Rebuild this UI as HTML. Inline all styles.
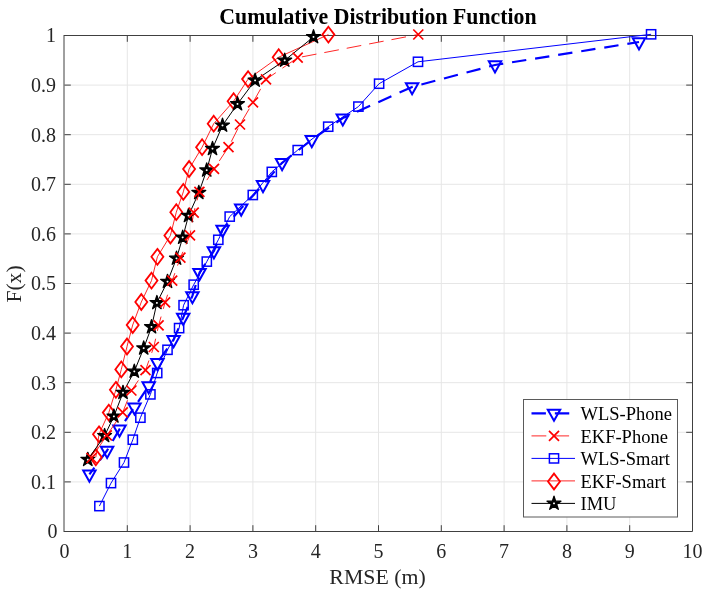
<!DOCTYPE html><html><head><meta charset="utf-8"><style>html,body{margin:0;padding:0;background:#fff;}svg{display:block;will-change:transform}text{font-family:"Liberation Serif",serif;fill:#262626}</style></head><body>
<svg width="709" height="594" viewBox="0 0 709 594">
<rect width="709" height="594" fill="#fff"/>
<path d="M127.3 35.5V531.5M190.1 35.5V531.5M252.9 35.5V531.5M315.7 35.5V531.5M378.5 35.5V531.5M441.3 35.5V531.5M504.1 35.5V531.5M566.9 35.5V531.5M629.7 35.5V531.5M64.5 481.9H692.5M64.5 432.3H692.5M64.5 382.7H692.5M64.5 333.1H692.5M64.5 283.5H692.5M64.5 233.9H692.5M64.5 184.3H692.5M64.5 134.7H692.5M64.5 85.1H692.5" stroke="#e6e6e6" stroke-width="1" fill="none"/>
<path d="M127.3 531.5v-6.3M127.3 35.5v6.3M190.1 531.5v-6.3M190.1 35.5v6.3M252.9 531.5v-6.3M252.9 35.5v6.3M315.7 531.5v-6.3M315.7 35.5v6.3M378.5 531.5v-6.3M378.5 35.5v6.3M441.3 531.5v-6.3M441.3 35.5v6.3M504.1 531.5v-6.3M504.1 35.5v6.3M566.9 531.5v-6.3M566.9 35.5v6.3M629.7 531.5v-6.3M629.7 35.5v6.3M64.5 481.9h6.3M692.5 481.9h-6.3M64.5 432.3h6.3M692.5 432.3h-6.3M64.5 382.7h6.3M692.5 382.7h-6.3M64.5 333.1h6.3M692.5 333.1h-6.3M64.5 283.5h6.3M692.5 283.5h-6.3M64.5 233.9h6.3M692.5 233.9h-6.3M64.5 184.3h6.3M692.5 184.3h-6.3M64.5 134.7h6.3M692.5 134.7h-6.3M64.5 85.1h6.3M692.5 85.1h-6.3" stroke="#404040" stroke-width="1" fill="none"/>
<path d="M64 35V532M64 35.5H692.5V531.5H64" fill="none" stroke="#404040" stroke-width="1"/>
<polyline fill="none" stroke="#0000ff" stroke-width="2.2" stroke-linejoin="round" stroke-dasharray="14.4 8.95" stroke-dashoffset="6.02" points="89.4,474.3 107.1,450.5 119.5,429.2 134.5,407.1 148.7,386 157.4,362.7 173.6,339.8 183.2,317.5 192.4,295.9 199.5,272.7 213.9,251 222.6,229.5 241.2,208.2 263,184.8 282.1,162.8 311.8,139.8 342.8,118.1 412.1,86.9 495,65 639,42"/><g fill="none" stroke="#0000ff" stroke-width="2" stroke-linejoin="miter" stroke-miterlimit="10"><path d="M83.2 470.6L95.6 470.6L89.4 481.7Z"/><path d="M100.9 446.8L113.3 446.8L107.1 457.9Z"/><path d="M113.3 425.5L125.7 425.5L119.5 436.6Z"/><path d="M128.3 403.4L140.7 403.4L134.5 414.5Z"/><path d="M142.5 382.3L154.9 382.3L148.7 393.4Z"/><path d="M151.2 359L163.6 359L157.4 370.1Z"/><path d="M167.4 336.1L179.8 336.1L173.6 347.2Z"/><path d="M177 313.8L189.4 313.8L183.2 324.9Z"/><path d="M186.2 292.2L198.6 292.2L192.4 303.3Z"/><path d="M193.3 269L205.7 269L199.5 280.1Z"/><path d="M207.7 247.3L220.1 247.3L213.9 258.4Z"/><path d="M216.4 225.8L228.8 225.8L222.6 236.9Z"/><path d="M235 204.5L247.4 204.5L241.2 215.6Z"/><path d="M256.8 181.1L269.2 181.1L263 192.2Z"/><path d="M275.9 159.1L288.3 159.1L282.1 170.2Z"/><path d="M305.6 136.1L318 136.1L311.8 147.2Z"/><path d="M336.6 114.4L349 114.4L342.8 125.5Z"/><path d="M405.9 83.2L418.3 83.2L412.1 94.3Z"/><path d="M488.8 61.3L501.2 61.3L495 72.4Z"/><path d="M632.8 38.3L645.2 38.3L639 49.4Z"/></g>
<polyline fill="none" stroke="#0000ff" stroke-width="1" stroke-linejoin="round" points="99.4,506.1 111,483.1 124,462.5 132.8,439.7 140.4,417.7 150.4,394.4 157.2,373 167.5,349.8 179.1,328.1 183.6,305.2 193.7,284.7 206.8,261.6 218.3,239.8 229.7,216.6 252.8,195 271.8,171.9 297.7,150.1 328.2,126.7 358.4,106.6 379.1,83.7 418,61.8 651.1,34.3"/><g fill="none" stroke="#0000ff" stroke-width="1.5" stroke-linejoin="miter" stroke-miterlimit="10"><rect x="94.8" y="501.5" width="9.2" height="9.2"/><rect x="106.4" y="478.5" width="9.2" height="9.2"/><rect x="119.4" y="457.9" width="9.2" height="9.2"/><rect x="128.2" y="435.1" width="9.2" height="9.2"/><rect x="135.8" y="413.1" width="9.2" height="9.2"/><rect x="145.8" y="389.8" width="9.2" height="9.2"/><rect x="152.6" y="368.4" width="9.2" height="9.2"/><rect x="162.9" y="345.2" width="9.2" height="9.2"/><rect x="174.5" y="323.5" width="9.2" height="9.2"/><rect x="179" y="300.6" width="9.2" height="9.2"/><rect x="189.1" y="280.1" width="9.2" height="9.2"/><rect x="202.2" y="257" width="9.2" height="9.2"/><rect x="213.7" y="235.2" width="9.2" height="9.2"/><rect x="225.1" y="212" width="9.2" height="9.2"/><rect x="248.2" y="190.4" width="9.2" height="9.2"/><rect x="267.2" y="167.3" width="9.2" height="9.2"/><rect x="293.1" y="145.5" width="9.2" height="9.2"/><rect x="323.6" y="122.1" width="9.2" height="9.2"/><rect x="353.8" y="102" width="9.2" height="9.2"/><rect x="374.5" y="79.1" width="9.2" height="9.2"/><rect x="413.4" y="57.2" width="9.2" height="9.2"/><rect x="646.5" y="29.7" width="9.2" height="9.2"/></g>
<polyline fill="none" stroke="#ff0000" stroke-width="1" stroke-linejoin="round" stroke-opacity="0.85" points="95.8,457.3 99,434.3 108.8,412.6 115.9,389.8 121.3,369.4 127,346.5 132.7,325 141.3,302 151.5,280.6 157.4,256.8 170.4,235.5 176.3,212.2 183.3,191.9 189.1,169 202.1,147.2 213.7,123.7 233.6,101.2 248.1,79.1 278.7,57.2 328.4,34.6"/><g fill="none" stroke="#ff0000" stroke-width="1.8" stroke-linejoin="miter" stroke-miterlimit="10"><path d="M95.8 449.4L101.8 457.3L95.8 465.2L89.8 457.3Z"/><path d="M99 426.4L105 434.3L99 442.2L93 434.3Z"/><path d="M108.8 404.7L114.8 412.6L108.8 420.5L102.8 412.6Z"/><path d="M115.9 381.9L121.9 389.8L115.9 397.7L109.9 389.8Z"/><path d="M121.3 361.5L127.3 369.4L121.3 377.3L115.3 369.4Z"/><path d="M127 338.6L133 346.5L127 354.4L121 346.5Z"/><path d="M132.7 317.1L138.7 325L132.7 332.9L126.7 325Z"/><path d="M141.3 294.1L147.3 302L141.3 309.9L135.3 302Z"/><path d="M151.5 272.7L157.5 280.6L151.5 288.5L145.5 280.6Z"/><path d="M157.4 248.9L163.4 256.8L157.4 264.7L151.4 256.8Z"/><path d="M170.4 227.6L176.4 235.5L170.4 243.4L164.4 235.5Z"/><path d="M176.3 204.3L182.3 212.2L176.3 220.1L170.3 212.2Z"/><path d="M183.3 184L189.3 191.9L183.3 199.8L177.3 191.9Z"/><path d="M189.1 161.1L195.1 169L189.1 176.9L183.1 169Z"/><path d="M202.1 139.3L208.1 147.2L202.1 155.1L196.1 147.2Z"/><path d="M213.7 115.8L219.7 123.7L213.7 131.6L207.7 123.7Z"/><path d="M233.6 93.3L239.6 101.2L233.6 109.1L227.6 101.2Z"/><path d="M248.1 71.2L254.1 79.1L248.1 87L242.1 79.1Z"/><path d="M278.7 49.3L284.7 57.2L278.7 65.1L272.7 57.2Z"/><path d="M328.4 26.7L334.4 34.6L328.4 42.5L322.4 34.6Z"/></g>
<polyline fill="none" stroke="#000000" stroke-width="1" stroke-linejoin="round" points="87.8,459.6 104.6,435.8 113.9,416.3 123,392.6 134.3,371.4 143.7,348.2 151.5,327 156.9,302.8 167.5,281.6 176.5,258.4 182.7,237.5 188.5,215.7 198.8,192.7 206.7,170.2 212.5,148.7 222.5,125.4 237.5,104 255.1,80.4 284.7,60.4 313.5,36.9"/><g fill="#000000" stroke="#000000" stroke-width="1.3" stroke-linejoin="round" stroke-miterlimit="10"><path d="M87.8 452.3L89.44 457.34L94.74 457.34L90.45 460.46L92.09 465.51L87.8 462.39L83.51 465.51L85.15 460.46L80.86 457.34L86.16 457.34Z"/><path fill="#fff" stroke="none" d="M87.8 460.7L86.75 459.94L87.15 458.71L88.45 458.71L88.85 459.94Z"/><path d="M104.6 428.5L106.24 433.54L111.54 433.54L107.25 436.66L108.89 441.71L104.6 438.59L100.31 441.71L101.95 436.66L97.66 433.54L102.96 433.54Z"/><path fill="#fff" stroke="none" d="M104.6 436.9L103.55 436.14L103.95 434.91L105.25 434.91L105.65 436.14Z"/><path d="M113.9 409L115.54 414.04L120.84 414.04L116.55 417.16L118.19 422.21L113.9 419.09L109.61 422.21L111.25 417.16L106.96 414.04L112.26 414.04Z"/><path fill="#fff" stroke="none" d="M113.9 417.4L112.85 416.64L113.25 415.41L114.55 415.41L114.95 416.64Z"/><path d="M123 385.3L124.64 390.34L129.94 390.34L125.65 393.46L127.29 398.51L123 395.39L118.71 398.51L120.35 393.46L116.06 390.34L121.36 390.34Z"/><path fill="#fff" stroke="none" d="M123 393.7L121.95 392.94L122.35 391.71L123.65 391.71L124.05 392.94Z"/><path d="M134.3 364.1L135.94 369.14L141.24 369.14L136.95 372.26L138.59 377.31L134.3 374.19L130.01 377.31L131.65 372.26L127.36 369.14L132.66 369.14Z"/><path fill="#fff" stroke="none" d="M134.3 372.5L133.25 371.74L133.65 370.51L134.95 370.51L135.35 371.74Z"/><path d="M143.7 340.9L145.34 345.94L150.64 345.94L146.35 349.06L147.99 354.11L143.7 350.99L139.41 354.11L141.05 349.06L136.76 345.94L142.06 345.94Z"/><path fill="#fff" stroke="none" d="M143.7 349.3L142.65 348.54L143.05 347.31L144.35 347.31L144.75 348.54Z"/><path d="M151.5 319.7L153.14 324.74L158.44 324.74L154.15 327.86L155.79 332.91L151.5 329.79L147.21 332.91L148.85 327.86L144.56 324.74L149.86 324.74Z"/><path fill="#fff" stroke="none" d="M151.5 328.1L150.45 327.34L150.85 326.11L152.15 326.11L152.55 327.34Z"/><path d="M156.9 295.5L158.54 300.54L163.84 300.54L159.55 303.66L161.19 308.71L156.9 305.59L152.61 308.71L154.25 303.66L149.96 300.54L155.26 300.54Z"/><path fill="#fff" stroke="none" d="M156.9 303.9L155.85 303.14L156.25 301.91L157.55 301.91L157.95 303.14Z"/><path d="M167.5 274.3L169.14 279.34L174.44 279.34L170.15 282.46L171.79 287.51L167.5 284.39L163.21 287.51L164.85 282.46L160.56 279.34L165.86 279.34Z"/><path fill="#fff" stroke="none" d="M167.5 282.7L166.45 281.94L166.85 280.71L168.15 280.71L168.55 281.94Z"/><path d="M176.5 251.1L178.14 256.14L183.44 256.14L179.15 259.26L180.79 264.31L176.5 261.19L172.21 264.31L173.85 259.26L169.56 256.14L174.86 256.14Z"/><path fill="#fff" stroke="none" d="M176.5 259.5L175.45 258.74L175.85 257.51L177.15 257.51L177.55 258.74Z"/><path d="M182.7 230.2L184.34 235.24L189.64 235.24L185.35 238.36L186.99 243.41L182.7 240.29L178.41 243.41L180.05 238.36L175.76 235.24L181.06 235.24Z"/><path fill="#fff" stroke="none" d="M182.7 238.6L181.65 237.84L182.05 236.61L183.35 236.61L183.75 237.84Z"/><path d="M188.5 208.4L190.14 213.44L195.44 213.44L191.15 216.56L192.79 221.61L188.5 218.49L184.21 221.61L185.85 216.56L181.56 213.44L186.86 213.44Z"/><path fill="#fff" stroke="none" d="M188.5 216.8L187.45 216.04L187.85 214.81L189.15 214.81L189.55 216.04Z"/><path d="M198.8 185.4L200.44 190.44L205.74 190.44L201.45 193.56L203.09 198.61L198.8 195.49L194.51 198.61L196.15 193.56L191.86 190.44L197.16 190.44Z"/><path fill="#fff" stroke="none" d="M198.8 193.8L197.75 193.04L198.15 191.81L199.45 191.81L199.85 193.04Z"/><path d="M206.7 162.9L208.34 167.94L213.64 167.94L209.35 171.06L210.99 176.11L206.7 172.99L202.41 176.11L204.05 171.06L199.76 167.94L205.06 167.94Z"/><path fill="#fff" stroke="none" d="M206.7 171.3L205.65 170.54L206.05 169.31L207.35 169.31L207.75 170.54Z"/><path d="M212.5 141.4L214.14 146.44L219.44 146.44L215.15 149.56L216.79 154.61L212.5 151.49L208.21 154.61L209.85 149.56L205.56 146.44L210.86 146.44Z"/><path fill="#fff" stroke="none" d="M212.5 149.8L211.45 149.04L211.85 147.81L213.15 147.81L213.55 149.04Z"/><path d="M222.5 118.1L224.14 123.14L229.44 123.14L225.15 126.26L226.79 131.31L222.5 128.19L218.21 131.31L219.85 126.26L215.56 123.14L220.86 123.14Z"/><path fill="#fff" stroke="none" d="M222.5 126.5L221.45 125.74L221.85 124.51L223.15 124.51L223.55 125.74Z"/><path d="M237.5 96.7L239.14 101.74L244.44 101.74L240.15 104.86L241.79 109.91L237.5 106.79L233.21 109.91L234.85 104.86L230.56 101.74L235.86 101.74Z"/><path fill="#fff" stroke="none" d="M237.5 105.1L236.45 104.34L236.85 103.11L238.15 103.11L238.55 104.34Z"/><path d="M255.1 73.1L256.74 78.14L262.04 78.14L257.75 81.26L259.39 86.31L255.1 83.19L250.81 86.31L252.45 81.26L248.16 78.14L253.46 78.14Z"/><path fill="#fff" stroke="none" d="M255.1 81.5L254.05 80.74L254.45 79.51L255.75 79.51L256.15 80.74Z"/><path d="M284.7 53.1L286.34 58.14L291.64 58.14L287.35 61.26L288.99 66.31L284.7 63.19L280.41 66.31L282.05 61.26L277.76 58.14L283.06 58.14Z"/><path fill="#fff" stroke="none" d="M284.7 61.5L283.65 60.74L284.05 59.51L285.35 59.51L285.75 60.74Z"/><path d="M313.5 29.6L315.14 34.64L320.44 34.64L316.15 37.76L317.79 42.81L313.5 39.69L309.21 42.81L310.85 37.76L306.56 34.64L311.86 34.64Z"/><path fill="#fff" stroke="none" d="M313.5 38L312.45 37.24L312.85 36.01L314.15 36.01L314.55 37.24Z"/></g>
<polyline fill="none" stroke="#ff0000" stroke-width="1" stroke-linejoin="round" stroke-dasharray="14.8 8.0" stroke-dashoffset="14.93" stroke-opacity="0.85" points="91.5,458 106.8,435.4 122.7,412.4 131.4,390.5 145.5,370.2 153.8,347 158.6,325.4 165.1,302.4 172.2,280.6 180.4,257.7 190,235.4 193.7,212.6 199.4,191.8 214,168.9 228.5,147.1 240,124.5 253,102.4 266,79.4 297.7,57.7 418.3,34.5"/><g fill="none" stroke="#ff0000" stroke-width="1.7" stroke-linejoin="miter" stroke-miterlimit="10"><path d="M86.5 453L96.5 463M86.5 463L96.5 453"/><path d="M101.8 430.4L111.8 440.4M101.8 440.4L111.8 430.4"/><path d="M117.7 407.4L127.7 417.4M117.7 417.4L127.7 407.4"/><path d="M126.4 385.5L136.4 395.5M126.4 395.5L136.4 385.5"/><path d="M140.5 365.2L150.5 375.2M140.5 375.2L150.5 365.2"/><path d="M148.8 342L158.8 352M148.8 352L158.8 342"/><path d="M153.6 320.4L163.6 330.4M153.6 330.4L163.6 320.4"/><path d="M160.1 297.4L170.1 307.4M160.1 307.4L170.1 297.4"/><path d="M167.2 275.6L177.2 285.6M167.2 285.6L177.2 275.6"/><path d="M175.4 252.7L185.4 262.7M175.4 262.7L185.4 252.7"/><path d="M185 230.4L195 240.4M185 240.4L195 230.4"/><path d="M188.7 207.6L198.7 217.6M188.7 217.6L198.7 207.6"/><path d="M194.4 186.8L204.4 196.8M194.4 196.8L204.4 186.8"/><path d="M209 163.9L219 173.9M209 173.9L219 163.9"/><path d="M223.5 142.1L233.5 152.1M223.5 152.1L233.5 142.1"/><path d="M235 119.5L245 129.5M235 129.5L245 119.5"/><path d="M248 97.4L258 107.4M248 107.4L258 97.4"/><path d="M261 74.4L271 84.4M261 84.4L271 74.4"/><path d="M292.7 52.7L302.7 62.7M292.7 62.7L302.7 52.7"/><path d="M413.3 29.5L423.3 39.5M413.3 39.5L423.3 29.5"/></g>
<text transform="translate(64.5 557.5) scale(1 1.02)" font-size="20" text-anchor="middle">0</text>
<text transform="translate(127.3 557.5) scale(1 1.02)" font-size="20" text-anchor="middle">1</text>
<text transform="translate(190.1 557.5) scale(1 1.02)" font-size="20" text-anchor="middle">2</text>
<text transform="translate(252.9 557.5) scale(1 1.02)" font-size="20" text-anchor="middle">3</text>
<text transform="translate(315.7 557.5) scale(1 1.02)" font-size="20" text-anchor="middle">4</text>
<text transform="translate(378.5 557.5) scale(1 1.02)" font-size="20" text-anchor="middle">5</text>
<text transform="translate(441.3 557.5) scale(1 1.02)" font-size="20" text-anchor="middle">6</text>
<text transform="translate(504.1 557.5) scale(1 1.02)" font-size="20" text-anchor="middle">7</text>
<text transform="translate(566.9 557.5) scale(1 1.02)" font-size="20" text-anchor="middle">8</text>
<text transform="translate(629.7 557.5) scale(1 1.02)" font-size="20" text-anchor="middle">9</text>
<text transform="translate(692.5 557.5) scale(1 1.02)" font-size="20" text-anchor="middle">10</text>
<text transform="translate(57.5 538.3) scale(1 1.02)" font-size="20" text-anchor="end">0</text>
<text transform="translate(56 488.7) scale(1 1.02)" font-size="20" text-anchor="end">0.1</text>
<text transform="translate(56 439.1) scale(1 1.02)" font-size="20" text-anchor="end">0.2</text>
<text transform="translate(56 389.5) scale(1 1.02)" font-size="20" text-anchor="end">0.3</text>
<text transform="translate(56 339.9) scale(1 1.02)" font-size="20" text-anchor="end">0.4</text>
<text transform="translate(56 290.3) scale(1 1.02)" font-size="20" text-anchor="end">0.5</text>
<text transform="translate(56 240.7) scale(1 1.02)" font-size="20" text-anchor="end">0.6</text>
<text transform="translate(56 191.1) scale(1 1.02)" font-size="20" text-anchor="end">0.7</text>
<text transform="translate(56 141.5) scale(1 1.02)" font-size="20" text-anchor="end">0.8</text>
<text transform="translate(56 91.9) scale(1 1.02)" font-size="20" text-anchor="end">0.9</text>
<text transform="translate(56 42.3) scale(1 1.02)" font-size="20" text-anchor="end">1</text>
<text x="377.5" y="584.3" font-size="21.8" text-anchor="middle">RMSE (m)</text>
<text transform="translate(20.8 284) rotate(-90)" font-size="21.6" text-anchor="middle">F(x)</text>
<text transform="translate(377.9 24.4) scale(1 1.09)" font-size="21.8" font-weight="bold" text-anchor="middle" style="fill:#000">Cumulative Distribution Function</text>
<rect x="523.5" y="399.5" width="154" height="117.5" fill="#fff" stroke="#5a5a5a" stroke-width="1"/>
<polyline fill="none" stroke="#0000ff" stroke-width="2.2" stroke-linejoin="round" stroke-dasharray="14.4 8.95" points="531.5,413.4 575,413.4"/><g fill="none" stroke="#0000ff" stroke-width="2" stroke-linejoin="miter" stroke-miterlimit="10"><path d="M547.8 409.7L560.2 409.7L554 420.8Z"/></g>
<polyline fill="none" stroke="#ff0000" stroke-width="1" stroke-linejoin="round" stroke-dasharray="14.8 8.0" stroke-opacity="0.85" points="531.5,435.9 575,435.9"/><g fill="none" stroke="#ff0000" stroke-width="1.7" stroke-linejoin="miter" stroke-miterlimit="10"><path d="M549 430.9L559 440.9M549 440.9L559 430.9"/></g>
<polyline fill="none" stroke="#0000ff" stroke-width="1" stroke-linejoin="round" points="531.5,458.4 575,458.4"/><g fill="none" stroke="#0000ff" stroke-width="1.5" stroke-linejoin="miter" stroke-miterlimit="10"><rect x="549.4" y="453.8" width="9.2" height="9.2"/></g>
<polyline fill="none" stroke="#ff0000" stroke-width="1" stroke-linejoin="round" stroke-opacity="0.85" points="531.5,480.9 575,480.9"/><g fill="none" stroke="#ff0000" stroke-width="1.8" stroke-linejoin="miter" stroke-miterlimit="10"><path d="M554 473.6L560 481.5L554 489.4L548 481.5Z"/></g>
<polyline fill="none" stroke="#000000" stroke-width="1" stroke-linejoin="round" points="531.5,503.4 575,503.4"/><g fill="#000000" stroke="#000000" stroke-width="1.3" stroke-linejoin="round" stroke-miterlimit="10"><path d="M554 496.1L555.64 501.14L560.94 501.14L556.65 504.26L558.29 509.31L554 506.19L549.71 509.31L551.35 504.26L547.06 501.14L552.36 501.14Z"/><path fill="#fff" stroke="none" d="M554 504.5L552.95 503.74L553.35 502.51L554.65 502.51L555.05 503.74Z"/></g>
<text x="580.5" y="420.4" font-size="18.5" style="fill:#000">WLS-Phone</text>
<text x="580.5" y="442.9" font-size="18.5" style="fill:#000">EKF-Phone</text>
<text x="580.5" y="465.4" font-size="18.5" style="fill:#000">WLS-Smart</text>
<text x="580.5" y="487.9" font-size="18.5" style="fill:#000">EKF-Smart</text>
<text x="580.5" y="510.4" font-size="18.5" style="fill:#000">IMU</text>
</svg></body></html>
